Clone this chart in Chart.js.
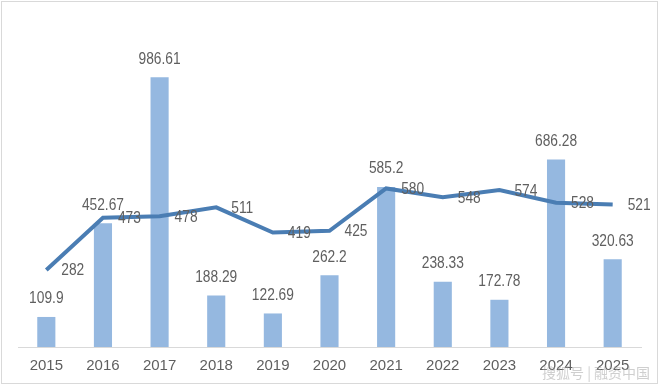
<!DOCTYPE html>
<html>
<head>
<meta charset="utf-8">
<script src="https://cdn.jsdelivr.net/npm/chart.js@4/dist/chart.umd.min.js"></script>
<style>
  html, body { margin: 0; padding: 0; background: #fff; }
  canvas { display: block; }
</style>
</head>
<body>
<canvas id="chart" width="660" height="386"></canvas>
<script>
const years = ["2015", "2016", "2017", "2018", "2019", "2020", "2021", "2022", "2023", "2024", "2025"];
const barValues = [109.9, 452.67, 986.61, 188.29, 122.69, 262.2, 585.2, 238.33, 172.78, 686.28, 320.63];
const lineValues = [282, 473, 478, 511, 419, 425, 580, 548, 574, 528, 521];

const fontFamily = "'Liberation Sans', Arial, sans-serif";
const labelColor = "#5f5f5f";

// value labels, squeezed a little to look like the narrow original font
const labelsPlugin = {
  id: "valueLabels",
  afterDatasetsDraw(chart) {
    const ctx = chart.ctx;
    const squeeze = 0.86;
    const put = (txt, x, y, align) => {
      ctx.save();
      ctx.translate(x, y);
      ctx.scale(squeeze, 1);
      ctx.textAlign = align;
      ctx.fillText(txt, 0, 0);
      ctx.restore();
    };
    ctx.save();
    ctx.font = "16px " + fontFamily;
    ctx.fillStyle = labelColor;
    ctx.textBaseline = "middle";

    chart.getDatasetMeta(0).data.forEach((el, i) => {
      put(String(barValues[i]), el.x, el.y - 18, "center");
    });
    chart.getDatasetMeta(1).data.forEach((el, i) => {
      put(String(lineValues[i]), el.x + 15, el.y + 1, "left");
    });
    ctx.restore();
  },
  afterDraw(chart) {
    const ctx = chart.ctx;
    ctx.save();
    ctx.strokeStyle = "#d9d9d9";
    ctx.lineWidth = 1;
    ctx.strokeRect(1.5, 1.5, 656, 382);
    ctx.font = "14px 'Noto Sans CJK SC', sans-serif";
    ctx.fillStyle = "rgba(160,160,160,0.5)";
    ctx.textAlign = "left";
    ctx.textBaseline = "middle";
    ctx.fillText("搜狐号 | 融资中国", 542, 373);
    ctx.restore();
  }
};

new Chart(document.getElementById("chart").getContext("2d"), {
  data: {
    labels: years,
    datasets: [
      {
        type: "bar",
        data: barValues,
        backgroundColor: "#95b8e0",
        categoryPercentage: 0.8,
        barPercentage: 0.4,
        order: 1
      },
      {
        type: "line",
        data: lineValues,
        borderColor: "#4a7db3",
        borderWidth: 4,
        pointRadius: 0,
        tension: 0,
        order: 0
      }
    ]
  },
  options: {
    responsive: false,
    animation: false,
    layout: { padding: { left: 18, right: 19, top: 19, bottom: 0 } },
    plugins: {
      legend: { display: false },
      tooltip: { enabled: false }
    },
    scales: {
      x: {
        grid: { display: false, drawTicks: false },
        border: { display: true, color: "#d9d9d9", width: 1 },
        ticks: {
          color: labelColor,
          font: { family: fontFamily, size: 15 },
          padding: 10,
          maxRotation: 0
        },
        afterFit(scale) { scale.height = 39; }
      },
      y: {
        display: false,
        min: 0,
        max: 1200
      }
    }
  },
  plugins: [labelsPlugin]
});
</script>
</body>
</html>
